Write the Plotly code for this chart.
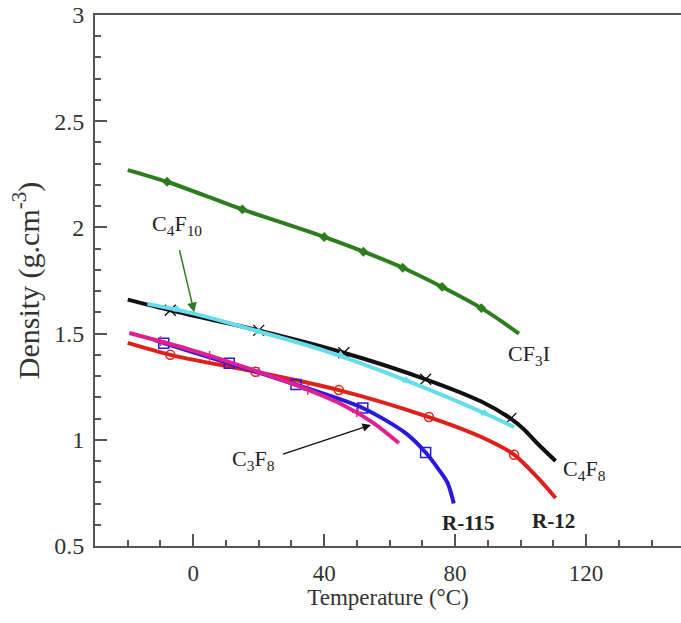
import plotly.graph_objects as go

# ---- data ----
cf3i_T = [-20, -8, 15, 40, 64, 88, 99.5]
cf3i_D = [2.27, 2.215, 2.085, 1.955, 1.81, 1.62, 1.50]
cf3i_mT = [-8, 15, 40, 52, 64, 76, 88]
cf3i_mD = [2.215, 2.085, 1.955, 1.885, 1.81, 1.72, 1.62]

c4f8_T = [-20, -7, 20, 46, 71, 88, 97, 101, 105, 110.7]
c4f8_D = [1.66, 1.61, 1.515, 1.41, 1.285, 1.18, 1.10, 1.05, 0.985, 0.90]
c4f8_mT = [-7, 20, 46, 71, 97]
c4f8_mD = [1.61, 1.515, 1.41, 1.285, 1.10]

c4f10_T = [-14, 0, 20, 40, 65, 89, 98]
c4f10_D = [1.64, 1.595, 1.51, 1.42, 1.28, 1.125, 1.06]
c4f10_mT = [-5, 20, 45, 65, 89]
c4f10_mD = [1.615, 1.51, 1.40, 1.28, 1.125]

r12_T = [-20, -7, 19, 44.5, 72, 88, 98, 105, 110.7]
r12_D = [1.456, 1.40, 1.32, 1.234, 1.107, 1.013, 0.93, 0.825, 0.726]
r12_mT = [-7, 19, 44.5, 72, 98]
r12_mD = [1.40, 1.32, 1.234, 1.107, 0.93]

r115_T = [-12, -9, 11, 31.4, 51.8, 65, 71, 75, 77.7, 79.6]
r115_D = [1.47, 1.455, 1.36, 1.26, 1.15, 1.03, 0.94, 0.86, 0.797, 0.70]
r115_mT = [-9, 11, 31.4, 51.8, 71]
r115_mD = [1.455, 1.36, 1.26, 1.15, 0.94]

c3f8_T = [-19.5, 0, 20, 31, 45, 55, 62.8]
c3f8_D = [1.503, 1.42, 1.32, 1.26, 1.17, 1.08, 0.985]
c3f8_mT = [-10, 5, 20, 35, 50]
c3f8_mD = [1.465, 1.395, 1.32, 1.235, 1.13]

x_ticks = [0, 40, 80, 120]
y_ticks = [0.5, 1, 1.5, 2, 2.5, 3]
y_ticklabels = ["0.5", "1", "1.5", "2", "2.5", "3"]

FONT = "Liberation Serif"
AXC = "#555555"

fig = go.Figure()

def add_series(T, D, mT, mD, color, symbol, name, msize=9, mwidth=1.5):
    fig.add_trace(go.Scatter(x=T, y=D, mode="lines", line=dict(color=color, width=4, shape="spline", smoothing=0.8),
                             name=name, showlegend=False, hoverinfo="skip"))
    fig.add_trace(go.Scatter(x=mT, y=mD, mode="markers",
                             marker=dict(symbol=symbol, size=msize, color=color, line=dict(color=color, width=mwidth)),
                             name=name, showlegend=False))

add_series(cf3i_T, cf3i_D, cf3i_mT, cf3i_mD, "#2e7d1e", "diamond", "CF3I", 6)
add_series(c4f8_T, c4f8_D, c4f8_mT, c4f8_mD, "#111111", "x-thin", "C4F8", 11, 1.3)
add_series(c4f10_T, c4f10_D, c4f10_mT, c4f10_mD, "#66dced", "triangle-up", "C4F10", 6)
add_series(r12_T, r12_D, r12_mT, r12_mD, "#e0201b", "circle-open", "R-12", 9)
add_series(r115_T, r115_D, r115_mT, r115_mD, "#2a18e0", "square-open", "R-115", 10)
add_series(c3f8_T, c3f8_D, c3f8_mT, c3f8_mD, "#e0208f", "cross-thin", "C3F8", 7)

# labels
def label(x, y, text, bold=False, size=22):
    fig.add_annotation(x=x, y=y, text=("<b>%s</b>" % text) if bold else text, showarrow=False,
                       font=dict(family=FONT, size=size, color="#222222"))

label(102.5, 1.40, "CF<sub>3</sub>I")
label(119.5, 0.86, "C<sub>4</sub>F<sub>8</sub>")
label(84, 0.61, "R-115", bold=True, size=21)
label(110, 0.62, "R-12", bold=True, size=21)

fig.add_annotation(x=0.3, y=1.60, ax=-4.3, ay=1.90, xref="x", yref="y", axref="x", ayref="y",
                   text="", showarrow=True, arrowhead=2, arrowsize=1.3, arrowwidth=1.5, arrowcolor="#2e7d1e")
label(-5, 2.01, "C<sub>4</sub>F<sub>10</sub>")

fig.add_annotation(x=54.3, y=1.07, ax=27, ay=0.93, xref="x", yref="y", axref="x", ayref="y",
                   text="", showarrow=True, arrowhead=2, arrowsize=1.3, arrowwidth=1.3, arrowcolor="#111111")
label(18.5, 0.905, "C<sub>3</sub>F<sub>8</sub>")

fig.update_layout(
    width=681, height=623,
    margin=dict(l=95, r=0, t=15, b=77),
    plot_bgcolor="white", paper_bgcolor="white",
    font=dict(family=FONT, size=23, color="#333333"),
    xaxis=dict(range=[-30, 149], tickvals=x_ticks, ticks="inside", ticklen=12, tickwidth=1.5,
               tickcolor=AXC, showline=True, linecolor=AXC, linewidth=1.8, mirror=True,
               showgrid=False, zeroline=False, tickfont=dict(size=23), ticklabelstandoff=5,
               minor=dict(dtick=10, tick0=0, ticks="inside", ticklen=6, tickcolor=AXC),
               title=dict(text="Temperature (°C)", font=dict(size=23), standoff=4)),
    yaxis=dict(range=[0.5, 3], tickvals=y_ticks, ticktext=y_ticklabels, ticks="inside", ticklen=12,
               tickwidth=1.5, tickcolor=AXC, showline=True, linecolor=AXC, linewidth=1.8,
               showgrid=False, zeroline=False, tickfont=dict(size=24), ticklabelstandoff=4,
               minor=dict(dtick=0.1, tick0=0.5, ticks="inside", ticklen=6, tickcolor=AXC),
               title=dict(text="Density (g.cm<sup>-3</sup>)", font=dict(size=30), standoff=6)),
)

fig.write_html("out.html")
